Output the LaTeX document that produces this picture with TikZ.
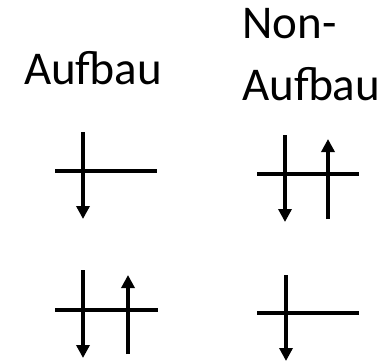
\documentclass[tikz,border=0pt]{standalone}
\usepackage{fontspec}
\setmainfont{Carlito}
\usetikzlibrary{arrows.meta}
\begin{document}
\begin{tikzpicture}[x=1pt,y=-1pt,
  level/.style={line width=4pt},
  spin/.style={line width=4pt,-{Triangle[width=13pt,length=13pt]}},
  label/.style={font=\fontsize{47}{56}\selectfont,inner sep=0pt}]
\useasboundingbox (0,0) rectangle (388,362);
% titles
\node[label,anchor=base] (aufbau) at (93,84) {Aufbau};
\node[label,anchor=base west] (non1) at (242,38) {Non-};
\node[label,anchor=base west] (non2) at (242,100) {Aufbau};
% top-left
\coordinate (a1) at (55,171); \coordinate (a2) at (157,171);
\coordinate (a3) at (83,132); \coordinate (a4) at (83,219);
\draw[level] (a1) -- (a2);
\draw[spin] (a3) -- (a4);
% top-right
\coordinate (b1) at (257,174); \coordinate (b2) at (359,174);
\coordinate (b3) at (285,135); \coordinate (b4) at (285,222);
\coordinate (b5) at (328,219); \coordinate (b6) at (328,139);
\draw[level] (b1) -- (b2);
\draw[spin] (b3) -- (b4);
\draw[spin] (b5) -- (b6);
% bottom-left
\coordinate (c1) at (55,310); \coordinate (c2) at (158,310);
\coordinate (c3) at (83,270); \coordinate (c4) at (83,358);
\coordinate (c5) at (128,354); \coordinate (c6) at (128,275);
\draw[level] (c1) -- (c2);
\draw[spin] (c3) -- (c4);
\draw[spin] (c5) -- (c6);
% bottom-right
\coordinate (d1) at (257,313); \coordinate (d2) at (359,313);
\coordinate (d3) at (286,275); \coordinate (d4) at (286,361);
\draw[level] (d1) -- (d2);
\draw[spin] (d3) -- (d4);
\end{tikzpicture}
\end{document}
